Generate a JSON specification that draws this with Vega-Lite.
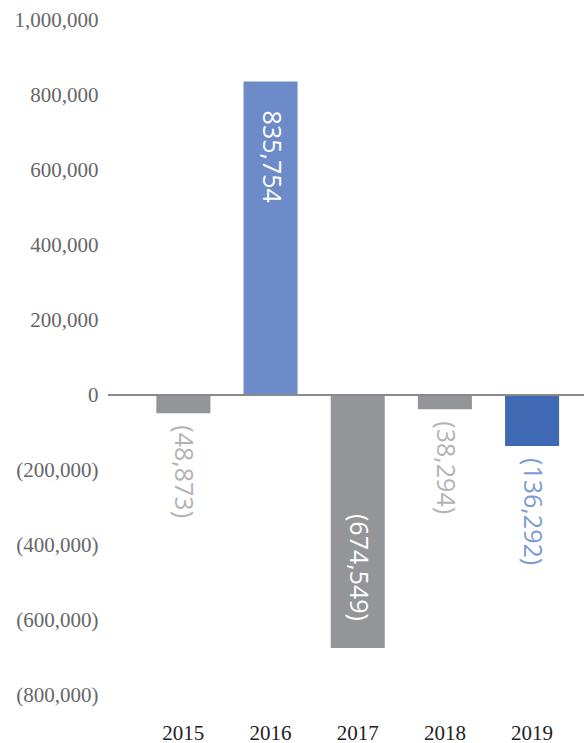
{
  "$schema": "https://vega.github.io/schema/vega-lite/v6.json",
  "autosize": "none",
  "width": 476,
  "height": 675,
  "padding": {"left": 108, "top": 20, "right": 0, "bottom": 48},
  "background": "white",
  "config": {"view": {"stroke": null}},
  "data": {
    "values": [
      {"year": "2015", "value": -48873, "label": "(48,873)", "group": "grey"},
      {"year": "2016", "value": 835754, "label": "835,754", "group": "lightblue"},
      {"year": "2017", "value": -674549, "label": "(674,549)", "group": "grey"},
      {"year": "2018", "value": -38294, "label": "(38,294)", "group": "grey"},
      {"year": "2019", "value": -136292, "label": "(136,292)", "group": "blue"}
    ]
  },
  "resolve": {"scale": {"color": "independent"}},
  "encoding": {
    "x": {
      "field": "year",
      "type": "nominal",
      "scale": {"type": "band", "paddingInner": 0.38, "paddingOuter": 0.42, "align": 0.66},
      "axis": {
        "title": null,
        "domain": false,
        "ticks": false,
        "labelAngle": 0,
        "labelFont": "Liberation Serif",
        "labelFontSize": 21,
        "labelColor": "#222222",
        "labelPadding": 27
      }
    },
    "y": {
      "field": "value",
      "type": "quantitative",
      "scale": {"domain": [-800000, 1000000], "nice": false, "zero": false},
      "axis": {
        "title": null,
        "domain": false,
        "ticks": false,
        "grid": false,
        "values": [-800000, -600000, -400000, -200000, 0, 200000, 400000, 600000, 800000, 1000000],
        "labelExpr": "datum.value < 0 ? '(' + format(-datum.value, ',') + ')' : format(datum.value, ',')",
        "labelFont": "Liberation Serif",
        "labelFontSize": 21,
        "labelColor": "#666666",
        "labelPadding": 10
      }
    }
  },
  "layer": [
    {
      "mark": {"type": "bar"},
      "encoding": {
        "color": {
          "field": "group",
          "type": "nominal",
          "scale": {"domain": ["grey", "lightblue", "blue"], "range": ["#949599", "#6d8bc9", "#3f69b3"]},
          "legend": null
        }
      }
    },
    {
      "mark": {"type": "rule", "color": "#8a8a8a", "strokeWidth": 1.5},
      "encoding": {
        "x": {"value": 0},
        "x2": {"value": 476},
        "y": {"datum": 0}
      }
    },
    {
      "transform": [{"filter": "datum.year == '2016'"}],
      "mark": {"type": "text", "angle": 90, "align": "left", "baseline": "middle", "dx": 29, "font": "Open Sans", "fontSize": 25, "color": "white"},
      "encoding": {"text": {"field": "label"}}
    },
    {
      "transform": [{"filter": "datum.year == '2017'"}],
      "mark": {"type": "text", "angle": 90, "align": "right", "baseline": "middle", "dx": -27, "font": "Open Sans", "fontSize": 25, "color": "white"},
      "encoding": {"text": {"field": "label"}}
    },
    {
      "transform": [{"filter": "datum.year == '2015' || datum.year == '2018' || datum.year == '2019'"}],
      "mark": {"type": "text", "angle": 90, "align": "left", "baseline": "middle", "dx": 12, "font": "Open Sans", "fontSize": 25},
      "encoding": {
        "text": {"field": "label"},
        "color": {
          "field": "group",
          "type": "nominal",
          "scale": {"domain": ["grey", "blue"], "range": ["#b3b3b5", "#7b9bd4"]},
          "legend": null
        }
      }
    }
  ]
}
